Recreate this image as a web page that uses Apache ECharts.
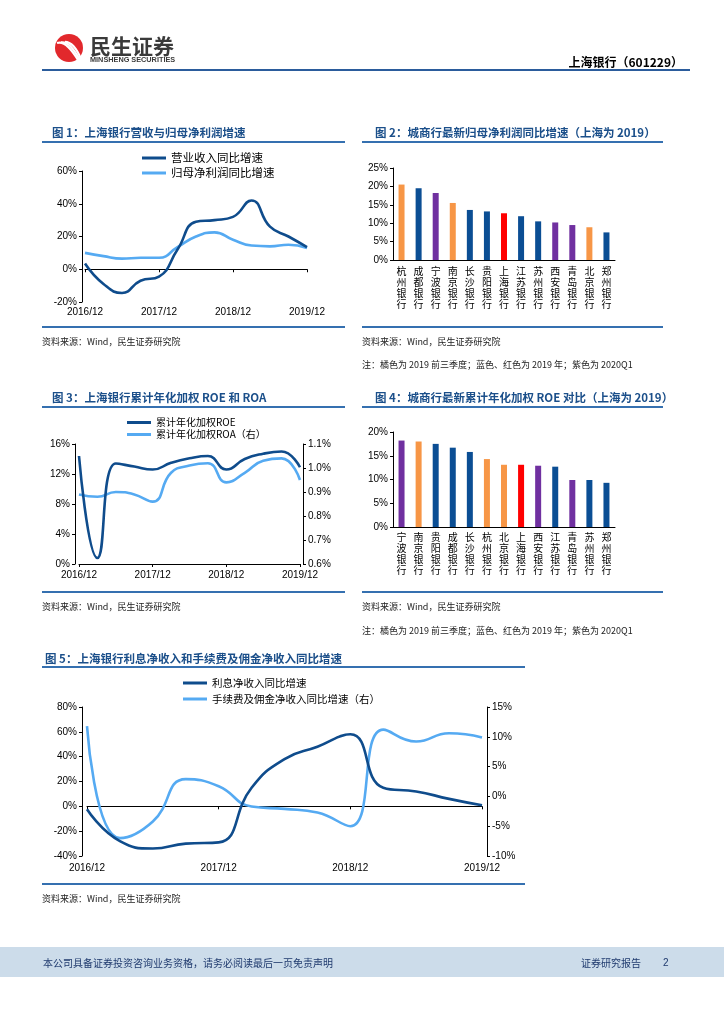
<!DOCTYPE html>
<html><head><meta charset="utf-8">
<script src="https://cdn.jsdelivr.net/npm/echarts@6/dist/echarts.min.js"></script>
<style>html,body{margin:0;padding:0;background:#fff}#c{width:724px;height:1024px}</style>
</head><body><div id="c"></div>
<script>
// ---------- DATA ----------
const quarters = ['2016/12','2017/03','2017/06','2017/09','2017/12','2018/03','2018/06','2018/09','2018/12','2019/03','2019/06','2019/09','2019/12'];
// Fig 1
const revenueYoY   = [3.5, -9, -14.5, -7, -4.5, 12, 29, 30, 32, 42, 26, 20, 13.5];
const netProfitYoY = [10, 8, 6.5, 7, 7, 13.5, 20, 22.5, 18, 14.5, 14, 15, 13];
// Fig 2
const banks2   = ['杭州银行','成都银行','宁波银行','南京银行','长沙银行','贵阳银行','上海银行','江苏银行','苏州银行','西安银行','青岛银行','北京银行','郑州银行'];
const profit2  = [20.5, 19.5, 18.2, 15.5, 13.6, 13.2, 12.7, 11.9, 10.5, 10.2, 9.5, 8.9, 7.5];
const period2  = ['19Q3','2019','20Q1','19Q3','2019','2019','2019','2019','2019','20Q1','20Q1','19Q3','2019'];
// Fig 3
const roe = [14.4, 0.8, 13.4, 13.0, 12.6, 13.5, 14.1, 14.4, 12.6, 14.0, 14.7, 15.0, 12.9];
const roa = [0.89, 0.88, 0.90, 0.89, 0.86, 0.98, 1.01, 1.02, 0.94, 0.98, 1.03, 1.04, 0.95];
// Fig 4
const banks4  = ['宁波银行','南京银行','贵阳银行','成都银行','长沙银行','杭州银行','北京银行','上海银行','西安银行','江苏银行','青岛银行','苏州银行','郑州银行'];
const roe4    = [18.2, 18.0, 17.5, 16.7, 15.8, 14.3, 13.1, 13.1, 12.9, 12.7, 9.9, 9.9, 9.3];
const period4 = ['20Q1','19Q3','2019','2019','2019','19Q3','19Q3','2019','20Q1','2019','20Q1','2019','2019'];
// Fig 5
const niiYoY = [-2.4, -28, -34, -30, -29, 15, 38, 48, 58, 15, 12, 6, 0.8];
const feeYoY = [11.8, -7, -4.2, 2.9, 1.7, -1.7, -2.1, -2.7, -5, 11.2, 9.2, 10.6, 9.9];

// ---------- STYLE ----------
const DARK = '#0F4C8C', LIGHT = '#55AAF2';
const PCOL = {'19Q3':'#F79646','2019':'#0B4E94','20Q1':'#7030A0'};
const RED = '#FF0000';
const NUMF = '"Liberation Sans", Arial, sans-serif';
const CJK = '"Noto Sans CJK SC", sans-serif';
const TITLEC = '#1B4F8A', SEP = '#3570B0';

function barData(names, vals, periods){
  return vals.map((v,i)=>({value:v, itemStyle:{color: names[i]==='上海银行' ? RED : PCOL[periods[i]]}}));
}
const pct = v => v + '%';
const yLab = {fontFamily:NUMF, fontSize:10, color:'#000', margin:5};
function yAx(grid,min,max,interval,extra){
  return Object.assign({type:'value',gridIndex:grid,min,max,interval,
    axisLine:{show:true,lineStyle:{color:'#000',width:1}},
    axisTick:{show:true,length:3,lineStyle:{color:'#000'}},
    splitLine:{show:false},
    axisLabel:Object.assign({formatter:pct},yLab)},extra||{});
}
function qLabelAxis(grid,margin){
  return {type:'category',gridIndex:grid,data:quarters,boundaryGap:false,position:'bottom',
    axisLine:{show:false,onZero:false},axisTick:{show:false},
    axisLabel:{interval:3,fontFamily:NUMF,fontSize:10,color:'#000',margin}};
}
function qZeroAxis(grid){
  return {type:'category',gridIndex:grid,data:quarters,boundaryGap:false,position:'top',
    axisLine:{show:true,onZero:true,lineStyle:{color:'#000',width:1}},
    axisTick:{show:true,inside:true,interval:3,length:3,lineStyle:{color:'#000'}},
    axisLabel:{show:false}};
}
function barAxis(grid,names,margin){
  return {type:'category',gridIndex:grid,data:names,boundaryGap:true,
    axisLine:{show:true,lineStyle:{color:'#000',width:1}},axisTick:{show:false},
    axisLabel:{interval:0,fontFamily:CJK,fontSize:10,lineHeight:11,color:'#000',margin,
      formatter:v=>v.split('').join('\n')}};
}
function lineS(name,data,color,xi,yi){
  return {type:'line',name,data,xAxisIndex:xi,yAxisIndex:yi,smooth:true,showSymbol:false,
    lineStyle:{color,width:2.6},itemStyle:{color},z:color===DARK?3:2};
}

// ---------- GRAPHICS ----------
const G = [];
function txt(x,y,text,font,fill,align){G.push({type:'text',x,y,style:{text,font,fill,align:align||'left',verticalAlign:'middle'}});}
function hline(x1,x2,y,w,c){G.push({type:'line',shape:{x1,y1:y,x2,y2:y},style:{stroke:c||SEP,lineWidth:w||2}});}
// header
G.push({type:'circle',shape:{cx:69,cy:48,r:14},style:{fill:'#E2282C'}});
[[0,0],[4,3],[8,6]].forEach(([a,b])=>G.push({type:'bezierCurve',shape:{x1:57+a,y1:43-b*0.2,cpx1:66+a,cpy1:40+b*0.3,x2:78+a*0.4,y2:60-b*0.1},style:{stroke:'#fff',lineWidth:2.2,fill:'none'}}));
txt(90,46,'民生证券','bold 21px '+CJK,'#3A3A3A');
txt(90,60,'MINSHENG SECURITIES','bold 7.3px '+NUMF,'#3A3A3A');
txt(683,62,'上海银行（601229）','bold 12px '+CJK,'#000','right');
hline(42,690,70,2.2,'#2B5C9C');
// section titles & separators
txt(52,133,'图 1：上海银行营收与归母净利润增速','bold 11.5px '+CJK,TITLEC);
hline(42,345,142,2); hline(42,345,327,2);
txt(375,133,'图 2：城商行最新归母净利润同比增速（上海为 2019）','bold 11.5px '+CJK,TITLEC);
hline(362,663,142,2); hline(362,663,327,2);
txt(42,342,'资料来源：Wind，民生证券研究院','9px '+CJK,'#222');
txt(362,342,'资料来源：Wind，民生证券研究院','9px '+CJK,'#222');
txt(362,365,'注：橘色为 2019 前三季度；蓝色、红色为 2019 年；紫色为 2020Q1','9px '+CJK,'#222');
txt(52,398,'图 3：上海银行累计年化加权 ROE 和 ROA','bold 11.5px '+CJK,TITLEC);
hline(42,345,407,2); hline(42,345,592,2);
txt(375,398,'图 4：城商行最新累计年化加权 ROE 对比（上海为 2019）','bold 11.5px '+CJK,TITLEC);
hline(362,663,407,2); hline(362,663,592,2);
txt(42,607,'资料来源：Wind，民生证券研究院','9px '+CJK,'#222');
txt(362,607,'资料来源：Wind，民生证券研究院','9px '+CJK,'#222');
txt(362,631,'注：橘色为 2019 前三季度；蓝色、红色为 2019 年；紫色为 2020Q1','9px '+CJK,'#222');
txt(45,659,'图 5：上海银行利息净收入和手续费及佣金净收入同比增速','bold 11.5px '+CJK,TITLEC);
hline(42,525,667,2); hline(42,525,884,2);
txt(42,899,'资料来源：Wind，民生证券研究院','9px '+CJK,'#222');
// footer
G.push({type:'rect',shape:{x:0,y:947,width:724,height:30},style:{fill:'#CCDCEA'}});
txt(43,963,'本公司具备证券投资咨询业务资格，请务必阅读最后一页免责声明','10px '+CJK,'#1F3A6E');
txt(581,963,'证券研究报告','10px '+CJK,'#1F3A6E');
txt(663,963,'2','10px '+NUMF,'#1F3A6E');

// ---------- OPTION ----------
const legendBase = {orient:'vertical',icon:'rect',itemWidth:24,itemHeight:3,padding:0,itemGap:1,selectedMode:false};
const option = {
  animation:false,
  backgroundColor:'#fff',
  grid:[
    {left:85,top:171,width:222,height:131},
    {left:393,top:168,width:222,height:92},
    {left:79,top:444,width:221,height:120},
    {left:393,top:432,width:222,height:95},
    {left:87,top:707,width:395,height:149}
  ],
  xAxis:[
    qLabelAxis(0,5), qZeroAxis(0),
    barAxis(1,banks2,6),
    {type:'category',gridIndex:2,data:quarters,boundaryGap:false,
      axisLine:{show:true,onZero:false,lineStyle:{color:'#000',width:1}},
      axisTick:{show:true,interval:3,length:3,lineStyle:{color:'#000'}},
      axisLabel:{interval:3,fontFamily:NUMF,fontSize:10,color:'#000',margin:6}},
    barAxis(3,banks4,5),
    qLabelAxis(4,7), qZeroAxis(4)
  ],
  yAxis:[
    yAx(0,-20,60,20,{offset:3}),
    yAx(1,0,25,5),
    yAx(2,0,16,4,{offset:4}),
    yAx(2,0.6,1.1,0.1,{position:'right',offset:3,axisLabel:Object.assign({},yLab,{formatter:v=>v.toFixed(1)+'%'})}),
    yAx(3,0,20,5),
    yAx(4,-40,80,20,{offset:5}),
    yAx(4,-10,15,5,{position:'right',offset:5})
  ],
  legend:[
    Object.assign({},legendBase,{data:['营业收入同比增速','归母净利润同比增速'],left:142,top:151,
      textStyle:{fontFamily:CJK,fontSize:11.5,lineHeight:14,color:'#000'}}),
    Object.assign({},legendBase,{data:['累计年化加权ROE','累计年化加权ROA（右）'],left:127,top:417,
      textStyle:{fontFamily:CJK,fontSize:10,lineHeight:11,color:'#000'}}),
    Object.assign({},legendBase,{data:['利息净收入同比增速','手续费及佣金净收入同比增速（右）'],left:183,top:675.5,
      textStyle:{fontFamily:CJK,fontSize:10.5,lineHeight:15,color:'#000'}})
  ],
  series:[
    lineS('营业收入同比增速',revenueYoY,DARK,0,0),
    lineS('归母净利润同比增速',netProfitYoY,LIGHT,0,0),
    {type:'bar',name:'归母净利润同比增速(城商行)',data:barData(banks2,profit2,period2),xAxisIndex:2,yAxisIndex:1,barWidth:6},
    lineS('累计年化加权ROE',roe,DARK,3,2),
    lineS('累计年化加权ROA（右）',roa,LIGHT,3,3),
    {type:'bar',name:'累计年化加权ROE(城商行)',data:barData(banks4,roe4,period4),xAxisIndex:4,yAxisIndex:4,barWidth:6},
    lineS('利息净收入同比增速',niiYoY,DARK,5,5),
    lineS('手续费及佣金净收入同比增速（右）',feeYoY,LIGHT,5,6)
  ],
  graphic:G
};
const chart = echarts.init(document.getElementById('c'),null,{renderer:'canvas'});
chart.setOption(option);
</script></body></html>
